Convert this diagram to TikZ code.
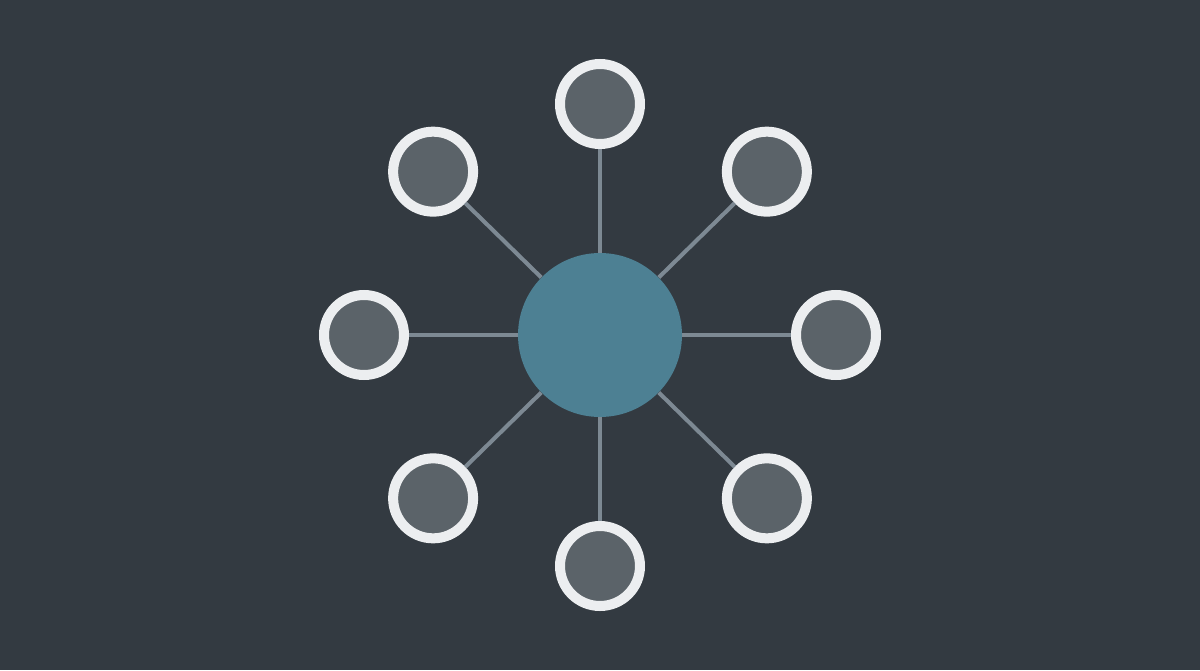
\documentclass[tikz,border=0pt]{standalone}
\usepackage{tikz}
\usetikzlibrary{positioning}
\definecolor{bgslate}{HTML}{333A41}
\definecolor{hubteal}{HTML}{4D8093}
\definecolor{satgrey}{HTML}{5B6369}
\definecolor{ringwhite}{HTML}{ECEEF0}
\definecolor{spokegrey}{HTML}{7D8993}
\begin{document}
\begin{tikzpicture}[x=0.02cm, y=0.02cm,
    hub/.style={shape=circle, fill=hubteal, minimum size=3.28cm, inner sep=0pt},
    sat/.style={shape=circle, fill=satgrey, draw=ringwhite, line width=5.7pt, minimum size=1.6cm, inner sep=0pt},
    spoke/.style={draw=spokegrey, line width=2.3pt}]
\fill[bgslate] (-600,-335) rectangle (600,335);
\node[hub] (hub) at (0,0) {};
\foreach \i/\a in {1/90,2/45,3/0,4/-45,5/-90,6/-135,7/180,8/135} {
  \node[sat] (sat-\i) at ({236*cos(\a)},{231*sin(\a)}) {};
  \draw[spoke] (hub) -- (sat-\i);
}
\end{tikzpicture}
\end{document}
